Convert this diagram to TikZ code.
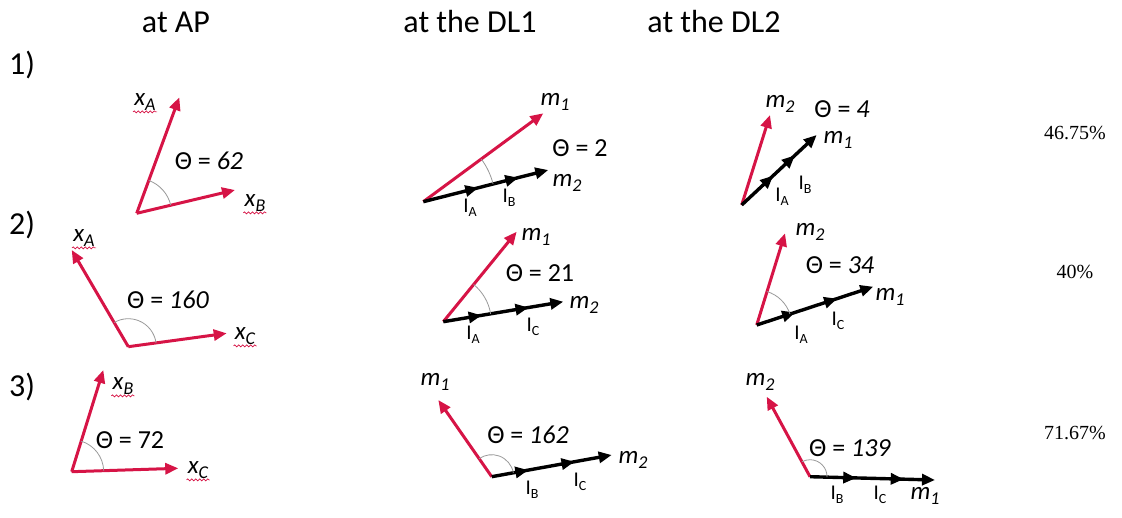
\documentclass[tikz,border=0pt]{standalone}
\usepackage{fontspec}
\setmainfont{Carlito}
\newfontfamily\pctfont{Liberation Serif}
\usetikzlibrary{arrows.meta,calc,angles,decorations.markings,decorations.pathmorphing}
\definecolor{vecred}{RGB}{214,20,70}
\definecolor{arcgrey}{gray}{0.6}
\newcommand\vsub[1]{\raisebox{-0.45ex}{\fontsize{9}{10}\selectfont #1}}
\newcommand\isub[1]{\raisebox{-0.45ex}{\fontsize{7}{8}\selectfont #1}}
\tikzset{
  redvec/.style={draw=vecred,line width=1.5pt,-{Triangle[length=6.5pt,width=5.5pt]}},
  blkvec/.style={draw=black,line width=1.7pt,-{Triangle[length=6.5pt,width=5.5pt]}},
  midtips/.style 2 args={postaction={decorate,decoration={markings,
      mark=at position #1 with {\arrow{Triangle[length=6.5pt,width=5.5pt]}},
      mark=at position #2 with {\arrow{Triangle[length=6.5pt,width=5.5pt]}}}}},
  ang/.style={draw=arcgrey,line width=0.4pt,angle radius=#1},
  head/.style={font=\fontsize{16}{19}\selectfont,inner sep=1pt},
  vlbl/.style={font=\fontsize{12.5}{15}\selectfont\itshape,inner sep=1pt},
  theta/.style={font=\fontsize{13}{16}\selectfont,inner sep=1pt},
  ilbl/.style={font=\fontsize{10.5}{12}\selectfont,inner sep=1pt},
  pct/.style={font=\fontsize{10}{12}\selectfont\pctfont,inner sep=1pt},
  squig/.style={draw=vecred,line width=0.35pt,decorate,
                decoration={snake,amplitude=0.5pt,segment length=2pt}},
}

\begin{document}
\begin{tikzpicture}[x=0.5pt,y=-0.5pt]
\useasboundingbox (0,0) rectangle (1122,518);

% column heads and row numbers
\node[head] (hap)  at (176,22) {at AP};
\node[head] (hdl1) at (470,22) {at the DL1};
\node[head] (hdl2) at (714,22) {at the DL2};
\node[head] (r1) at (22,65)  {1)};
\node[head] (r2) at (22,225) {2)};
\node[head] (r3) at (22,387) {3)};

% ---- row 1 ----
\coordinate (ap1) at (136.7,213.3);
\coordinate (ap1xa) at (179.3,97.3);
\coordinate (ap1xb) at (235,190);
\draw[redvec] (ap1) -- (ap1xa);
\draw[redvec] (ap1) -- (ap1xb);
\pic[ang=17.5] {angle=ap1xb--ap1--ap1xa};
\node[vlbl] (ap1xal) at (145,102) {x\vsub{A}};
\node[vlbl] (ap1xbl) at (255,203) {x\vsub{B}};
\node[theta] (ap1t) at (209,161) {Θ = \textit{62}};

\coordinate (da1) at (423.3,201.7);
\coordinate (da1r) at (543.3,113.3);
\coordinate (da1k) at (548.3,170);
\draw[redvec] (da1) -- (da1r);
\draw[blkvec,midtips={0.44}{0.76}] (da1) -- (da1k);
\pic[ang=36] {angle=da1k--da1--da1r};
\node[vlbl] (da1rl) at (555,102) {m\vsub{1}};
\node[vlbl] (da1kl) at (567,183) {m\vsub{2}};
\node[theta] (da1t) at (580,148) {Θ = 2};
\node[ilbl] (da1ia) at (470,208) {I\isub{A}};
\node[ilbl] (da1ib) at (509,198) {I\isub{B}};

\coordinate (db1) at (741.7,205);
\coordinate (db1r) at (770,115);
\coordinate (db1k) at (816.7,135);
\draw[redvec] (db1) -- (db1r);
\draw[blkvec,midtips={0.42}{0.71}] (db1) -- (db1k);
\node[vlbl] (db1rl) at (780,104) {m\vsub{2}};
\node[theta] (db1t) at (842,109) {Θ = \textit{4}};
\node[vlbl] (db1kl) at (838,140) {m\vsub{1}};
\node[ilbl] (db1ia) at (782,197) {I\isub{A}};
\node[ilbl] (db1ib) at (805,185) {I\isub{B}};

\node[pct] (p1) at (1075,133) {46.75\%};

% ---- row 2 ----
\coordinate (ap2) at (128.3,346.7);
\coordinate (ap2xa) at (71.7,250);
\coordinate (ap2xc) at (226.7,333.3);
\draw[redvec] (ap2) -- (ap2xa);
\draw[redvec] (ap2) -- (ap2xc);
\pic[ang=14] {angle=ap2xc--ap2--ap2xa};
\node[vlbl] (ap2xal) at (84,238) {x\vsub{A}};
\node[vlbl] (ap2xcl) at (245,336) {x\vsub{C}};
\node[theta] (ap2t) at (168,300) {Θ = \textit{160}};

\coordinate (da2) at (443.3,321.7);
\coordinate (da2r) at (516.7,231.7);
\coordinate (da2k) at (563.3,301.7);
\draw[redvec] (da2) -- (da2r);
\draw[blkvec,midtips={0.32}{0.71}] (da2) -- (da2k);
\pic[ang=24] {angle=da2k--da2--da2r};
\node[vlbl] (da2rl) at (536,237) {m\vsub{1}};
\node[vlbl] (da2kl) at (584,305) {m\vsub{2}};
\node[theta] (da2t) at (540,273) {Θ = 21};
\node[ilbl] (da2ia) at (473,335) {I\isub{A}};
\node[ilbl] (da2ic) at (533,327) {I\isub{C}};

\coordinate (db2) at (756.7,325);
\coordinate (db2r) at (785,233.3);
\coordinate (db2k) at (873.3,286.7);
\draw[redvec] (db2) -- (db2r);
\draw[blkvec,midtips={0.33}{0.69}] (db2) -- (db2k);
\pic[ang=17.5] {angle=db2k--db2--db2r};
\node[vlbl] (db2rl) at (810,232) {m\vsub{2}};
\node[theta] (db2t) at (840,265) {Θ = \textit{34}};
\node[vlbl] (db2kl) at (890,297) {m\vsub{1}};
\node[ilbl] (db2ia) at (801,335) {I\isub{A}};
\node[ilbl] (db2ic) at (838,321) {I\isub{C}};

\node[pct] (p2) at (1075,272) {40\%};

% ---- row 3 ----
\coordinate (ap3) at (71.7,471.7);
\coordinate (ap3xb) at (103.3,370);
\coordinate (ap3xc) at (178.3,468.3);
\draw[redvec] (ap3) -- (ap3xb);
\draw[redvec] (ap3) -- (ap3xc);
\pic[ang=16] {angle=ap3xc--ap3--ap3xb};
\node[vlbl] (ap3xbl) at (123,386) {x\vsub{B}};
\node[vlbl] (ap3xcl) at (198,470) {x\vsub{C}};
\node[theta] (ap3t) at (130,440) {Θ = 72};

\coordinate (da3) at (491.7,476.7);
\coordinate (da3r) at (438.3,400);
\coordinate (da3k) at (611.7,455);
\draw[redvec] (da3) -- (da3r);
\draw[blkvec,midtips={0.305}{0.69}] (da3) -- (da3k);
\pic[ang=11] {angle=da3k--da3--da3r};
\node[vlbl] (da3rl) at (435,382) {m\vsub{1}};
\node[vlbl] (da3kl) at (633,460) {m\vsub{2}};
\node[theta] (da3t) at (528,435) {Θ = \textit{162}};
\node[ilbl] (da3ib) at (532,490) {I\isub{B}};
\node[ilbl] (da3ic) at (580,482) {I\isub{C}};

\coordinate (db3) at (810,476.7);
\coordinate (db3r) at (766.7,396.7);
\coordinate (db3k) at (935,480);
\draw[redvec] (db3) -- (db3r);
\draw[blkvec,midtips={0.37}{0.75}] (db3) -- (db3k);
\pic[ang=8.5] {angle=db3k--db3--db3r};
\node[vlbl] (db3rl) at (760,382) {m\vsub{2}};
\node[theta] (db3t) at (850,448) {Θ = \textit{139}};
\node[ilbl] (db3ib) at (837,495) {I\isub{B}};
\node[ilbl] (db3ic) at (880,495) {I\isub{C}};
\node[vlbl] (db3kl) at (925,496) {m\vsub{1}};

\node[pct] (p3) at (1075,433) {71.67\%};

% spell-check marks under the x labels
\foreach \l in {ap1xal,ap1xbl,ap2xal,ap2xcl,ap3xbl,ap3xcl}
  \draw[squig] ([xshift=0.5pt,yshift=0.6pt]\l.south west) -- ([xshift=-0.5pt,yshift=0.6pt]\l.south east);
\end{tikzpicture}
\end{document}
